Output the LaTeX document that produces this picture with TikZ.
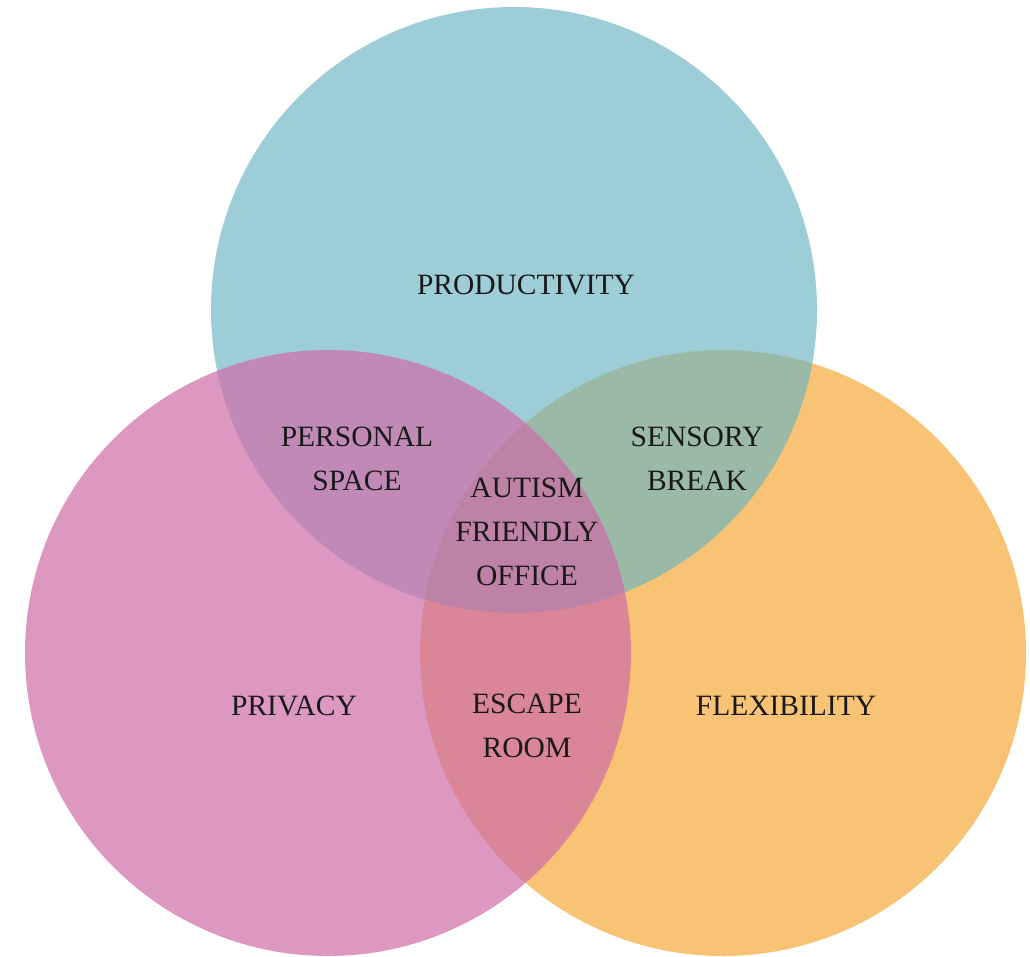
\documentclass[tikz,border=0pt]{standalone}
\usepackage{fontspec}
\setmainfont{Liberation Serif}
\usepackage{tikz}
\definecolor{prodblue}{RGB}{105,180,195}
\definecolor{privpink}{RGB}{206,108,168}
\definecolor{flexorange}{RGB}{248,195,116}
\tikzset{venn/.style={circle, minimum size=606pt, inner sep=0pt, outer sep=0pt, draw=none}}
\tikzset{vlabel/.style={align=center, inner sep=0pt, text=black!90, font=\fontsize{29.5}{44}\selectfont}}

\begin{document}
\begin{tikzpicture}[x=1pt, y=-1pt]
		\useasboundingbox (0,0) rectangle (1030,957);
		\clip (0,0) rectangle (1030,957);
		% the three sets, orange underneath
		\node[venn, fill=flexorange] (flex) at (723,653) {};
		\node[venn, fill=prodblue, fill opacity=0.65] (prod) at (514,310) {};
		\node[venn, fill=privpink, fill opacity=0.7] (priv) at (328,653) {};
		% labels
		\node[vlabel] (prodtext) at (526,285) {PRODUCTIVITY};
		\node[vlabel] (privtext) at (294,706) {PRIVACY};
		\node[vlabel] (flextext) at (786,706) {FLEXIBILITY};
		\node[vlabel] (personal) at (357,459) {PERSONAL\\SPACE};
		\node[vlabel] (sensory) at (697,459) {SENSORY\\BREAK};
		\node[vlabel] (escape) at (527,726) {ESCAPE\\ROOM};
		\node[vlabel] (office) at (527,532) {AUTISM\\FRIENDLY\\OFFICE};
	\end{tikzpicture}
\end{document}
